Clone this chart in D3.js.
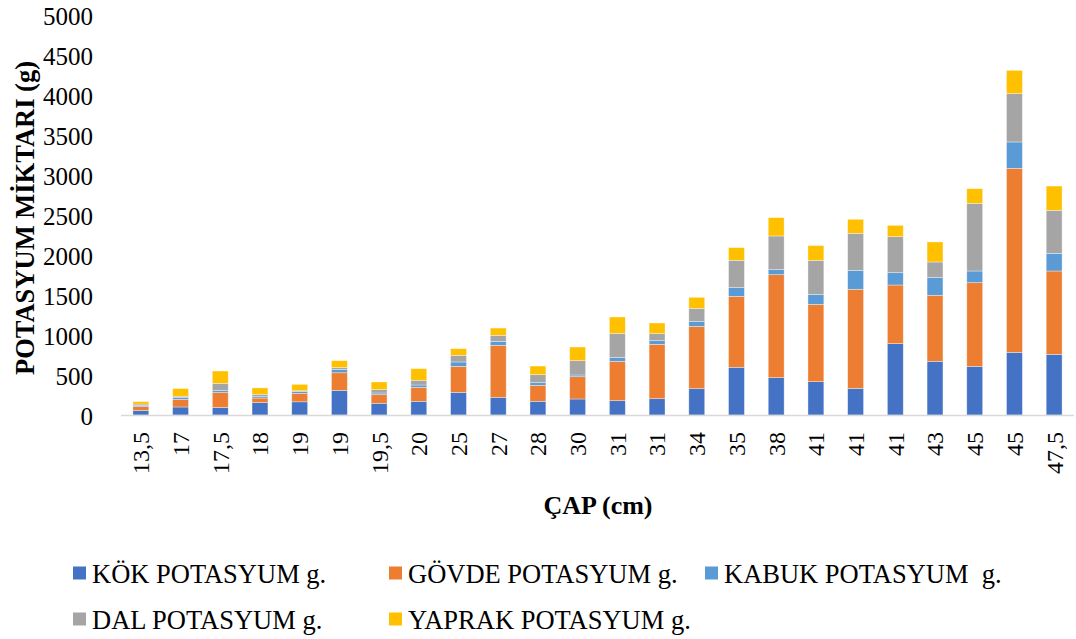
<!DOCTYPE html>
<html>
<head>
<meta charset="utf-8">
<script src="https://cdn.jsdelivr.net/npm/d3@7"></script>
<style>
  body { margin: 0; background: #fff; }
  svg { font-family: "Liberation Serif", "Times New Roman", serif; }
  .legend text { white-space: pre; }
</style>
</head>
<body>
<svg id="chart" width="1076" height="639"></svg>
<script>
// diameters (x categories)
var cap = ["13,5", "17", "17,5", "18", "19", "19", "19,5", "20", "25", "27", "28", "30",
           "31", "31", "34", "35", "38", "41", "41", "41", "43", "45", "45", "47,5"];

// potassium per tree part (g)
var kok    = [55, 100, 95, 155, 165, 308, 146, 171, 283, 221, 171, 200, 179, 204, 329, 596, 467, 417, 333, 892, 671, 608, 783, 758];
var govde  = [50, 95, 185, 57, 105, 220, 108, 175, 325, 650, 200, 279, 492, 679, 779, 887, 1287, 966, 1238, 733, 825, 1046, 2300, 1042];
var kabuk  = [12, 25, 25, 17, 25, 42, 21, 29, 55, 50, 33, 21, 50, 46, 59, 113, 63, 125, 237, 154, 225, 146, 330, 221];
var dal    = [20, 15, 90, 30, 8, 22, 42, 59, 83, 75, 100, 179, 300, 88, 166, 337, 421, 425, 463, 450, 192, 846, 604, 537];
var yaprak = [30, 95, 155, 80, 80, 87, 96, 145, 83, 91, 108, 171, 204, 133, 138, 159, 229, 184, 175, 142, 250, 183, 291, 304];

var seriesNames = ["KÖK POTASYUM g.", "GÖVDE POTASYUM g.", "KABUK POTASYUM  g.", "DAL POTASYUM g.", "YAPRAK POTASYUM g."];
var colors = ["#4472C4", "#ED7D31", "#5B9BD5", "#A5A5A5", "#FFC000"];
var yTicks = [0, 500, 1000, 1500, 2000, 2500, 3000, 3500, 4000, 4500, 5000];

var keys = ["kok", "govde", "kabuk", "dal", "yaprak"];
var rows = cap.map(function (c, i) {
    return { i: i, cap: c, kok: kok[i], govde: govde[i], kabuk: kabuk[i], dal: dal[i], yaprak: yaprak[i] };
});

var svg = d3.select("#chart");
var plotLeft = 121, plotRight = 1074, plotTop = 15, plotBottom = 415;

var x = d3.scaleBand().domain(d3.range(cap.length)).range([plotLeft, plotRight]).paddingInner(0.6).paddingOuter(0.3);
var y = d3.scaleLinear().domain([0, 5000]).range([plotBottom, plotTop]);

var stack = d3.stack().keys(keys)(rows);

// bars
svg.selectAll("g.layer")
    .data(stack)
    .enter().append("g")
    .attr("class", "layer")
    .attr("fill", function (d, i) { return colors[i]; })
    .selectAll("rect")
    .data(function (d) { return d; })
    .enter().append("rect")
    .attr("x", function (d) { return x(d.data.i); })
    .attr("width", x.bandwidth())
    .attr("y", function (d) { return y(d[1]); })
    .attr("height", function (d) { return y(d[0]) - y(d[1]); })
    .attr("stroke", "#fff")
    .attr("stroke-opacity", 0.5)
    .attr("stroke-width", 0.7);

// x axis line
svg.append("line")
    .attr("x1", plotLeft).attr("x2", plotRight)
    .attr("y1", plotBottom + 0.5).attr("y2", plotBottom + 0.5)
    .attr("stroke", "#d9d9d9").attr("stroke-width", 1.5);

// y tick labels
svg.selectAll("text.ytick")
    .data(yTicks)
    .enter().append("text")
    .attr("class", "ytick")
    .attr("x", 93)
    .attr("y", function (d) { return y(d) + 1; })
    .attr("dy", "0.35em")
    .attr("text-anchor", "end")
    .attr("font-size", 25)
    .text(function (d) { return d; });

// x tick labels (rotated)
svg.selectAll("text.xtick")
    .data(rows)
    .enter().append("text")
    .attr("class", "xtick")
    .attr("transform", function (d) {
        return "translate(" + (x(d.i) + x.bandwidth() / 2) + "," + (plotBottom + 17) + ") rotate(-90)";
    })
    .attr("dy", "0.35em")
    .attr("text-anchor", "end")
    .attr("font-size", 24)
    .text(function (d) { return d.cap; });

// axis titles
svg.append("text")
    .attr("transform", "translate(34,218) rotate(-90)")
    .attr("text-anchor", "middle")
    .attr("font-size", 26.5)
    .attr("font-weight", "bold")
    .text("POTASYUM MİKTARI (g)");

svg.append("text")
    .attr("x", 598)
    .attr("y", 514)
    .attr("text-anchor", "middle")
    .attr("font-size", 26)
    .attr("font-weight", "bold")
    .text("ÇAP (cm)");

// legend
var legendPos = [[73, 573], [389, 573], [705, 573], [73, 619], [389, 619]];
var lg = svg.selectAll("g.legend")
    .data(seriesNames)
    .enter().append("g")
    .attr("class", "legend")
    .attr("transform", function (d, i) { return "translate(" + legendPos[i][0] + "," + legendPos[i][1] + ")"; });
lg.append("rect")
    .attr("x", 0).attr("y", -6.5)
    .attr("width", 13).attr("height", 13)
    .attr("fill", function (d, i) { return colors[i]; });
lg.append("text")
    .attr("x", 19)
    .attr("y", 1)
    .attr("dy", "0.35em")
    .attr("font-size", 26.5)
    .text(function (d) { return d; });
</script>
</body>
</html>
